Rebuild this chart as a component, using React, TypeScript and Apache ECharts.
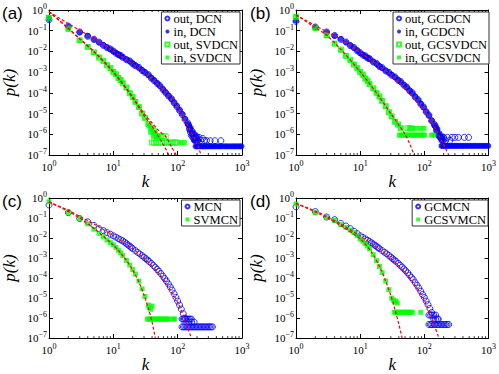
import React, { useEffect, useRef } from 'react';
import * as echarts from 'echarts';

// ---------- data (k values and log10 p(k)) ----------
const KB = [1,2,3,4,5,6,7,8,9,10,11,12,13,14,16,18,20,22,25,28,31,35,39,43,48,53,59,65,72,80,88,97,107,118,130,143];
const KG = [1,2,3,4,5,6,7,8,9,10,11,12,13,14,16,18,20,22,25,28,31,35,39,43];
const KC = [1,2,3,4,5,6,7,8,9,10,11,12,13,14,15,16,17,18,19,20,22,24,26,28,30,32,34,36,39,42,45,48,51,55,59,63,67,72,77,82,88,94,100,107,114,122,130];

// (a)
const A_OUT_DCN = [-0.47,-0.78,-1.06,-1.27,-1.41,-1.55,-1.71,-1.82,-1.88,-1.98,-2.09,-2.16,-2.19,-2.29,-2.40,-2.46,-2.60,-2.69,-2.77,-2.92,-3.02,-3.12,-3.29,-3.41,-3.55,-3.65,-3.84,-3.99,-4.15,-4.28,-4.48,-4.66,-4.85,-5.05,-5.28,-5.45];
const A_IN_DCN = [-0.43,-0.80,-1.08,-1.25,-1.43,-1.57,-1.69,-1.80,-1.90,-2.00,-2.07,-2.14,-2.21,-2.27,-2.38,-2.48,-2.58,-2.67,-2.79,-2.90,-3.00,-3.14,-3.27,-3.39,-3.53,-3.67,-3.82,-3.97,-4.13,-4.30,-4.46,-4.63,-4.82,-5.02,-5.25,-5.50];
const A_OUT_DCN_TAIL_K = [148,152,158,163,168,172,178,185,195,205,215,230,245,260,280,320,380,470];
const A_OUT_DCN_TAIL = [-5.55,-5.75,-5.90,-6.05,-5.85,-6.15,-6.20,-6.30,-6.20,-6.30,-6.15,-6.30,-6.20,-6.30,-6.30,-6.31,-6.31,-6.31];
const A_IN_DCN_TAIL_K = [150,155,160,165,170,175,180,185,190,200,210];
const A_IN_DCN_TAIL = [-5.60,-5.80,-5.70,-6.00,-5.90,-6.10,-6.30,-6.00,-6.30,-6.10,-6.30];
const A_IN_DCN_FLOOR_K = [190,200,210,222,235,250,265,280,300,320,340,365,390,420,450,480,520,560,600,650,700,750,800,860,920,980];
const A_IN_DCN_FLOOR = -6.58;
const A_OUT_SV = [-0.38,-0.90,-1.46,-1.79,-2.04,-2.30,-2.45,-2.67,-2.80,-3.00,-3.10,-3.28,-3.38,-3.54,-3.74,-4.02,-4.20,-4.44,-4.68,-5.00,-5.20,-5.50,-5.68,-5.85];
const A_IN_SV = [-0.35,-0.93,-1.48,-1.77,-2.06,-2.28,-2.47,-2.65,-2.82,-2.98,-3.12,-3.26,-3.40,-3.52,-3.76,-4.00,-4.22,-4.42,-4.70,-4.98,-5.22,-5.48,-5.70,-5.90];
const A_OUT_SV_FLOOR_K = [40,43,46,50,54,58,63,68,73,79,85,91,98];
const A_OUT_SV_FLOOR = -6.4;
const A_OUT_SV_MID_K = [48,52,56,60,65];
const A_OUT_SV_MID = -6.1;
const A_IN_SV_TAIL_K = [36,38,40,42,45,47,50,110,127];
const A_IN_SV_TAIL = [-5.60,-5.90,-5.75,-6.10,-5.95,-6.10,-6.10,-6.40,-6.40];

// (b)
const B_OUT_GC = [-0.55,-0.82,-1.06,-1.23,-1.42,-1.54,-1.72,-1.81,-1.97,-2.06,-2.18,-2.21,-2.32,-2.35,-2.51,-2.58,-2.73,-2.78,-2.94,-3.01,-3.15,-3.23,-3.39,-3.46,-3.63,-3.72,-3.90,-4.00,-4.20,-4.33,-4.54,-4.68,-4.92,-5.08,-5.35,-5.52];
const B_IN_GC = [-0.52,-0.84,-1.08,-1.25,-1.40,-1.56,-1.70,-1.83,-1.95,-2.08,-2.16,-2.23,-2.30,-2.37,-2.49,-2.60,-2.71,-2.80,-2.92,-3.03,-3.13,-3.25,-3.37,-3.48,-3.61,-3.74,-3.88,-4.02,-4.18,-4.35,-4.52,-4.70,-4.90,-5.10,-5.33,-5.56];
const B_OUT_GC_TAIL_K = [148,155,162,170,178,188,200,215,230,250,270,300,340,420,490];
const B_OUT_GC_TAIL = [-5.60,-5.80,-6.00,-6.10,-6.15,-6.25,-6.15,-6.30,-6.15,-6.30,-6.15,-6.15,-6.15,-6.15,-6.15];
const B_IN_GC_TAIL_K = [150,155,160,166,172,178,185,192,200];
const B_IN_GC_TAIL = [-5.65,-5.85,-5.75,-6.05,-5.95,-6.15,-6.30,-6.10,-6.30];
const B_IN_GC_FLOOR_K = [185,195,205,218,230,245,260,278,295,315,335,360,385,410,440,470,505,545,585,630,680,730,790,850,920,990];
const B_IN_GC_FLOOR = -6.56;
const B_OUT_SV = [-0.35,-0.86,-1.22,-1.63,-1.91,-2.22,-2.40,-2.64,-2.79,-3.00,-3.12,-3.31,-3.41,-3.58,-3.78,-4.02,-4.17,-4.40,-4.64,-4.94,-5.13,-5.40,-5.52,-5.72];
const B_IN_SV = [-0.32,-0.88,-1.24,-1.61,-1.93,-2.20,-2.42,-2.62,-2.81,-2.98,-3.14,-3.29,-3.43,-3.56,-3.80,-4.00,-4.19,-4.38,-4.66,-4.92,-5.15,-5.38,-5.55,-5.70];
const B_OUT_SV_MID_K = [55,62];
const B_OUT_SV_MID = -5.71;
const B_IN_SV_MID_K = [58,66,75,88,99];
const B_IN_SV_MID = -5.71;
const B_IN_SV_FLOOR_K = [41,44,47,50,54,58,62,67,72,77,83,89,95,101,130,141];
const B_IN_SV_FLOOR = -6.04;

// (c)
const C_MCN = [-0.35,-0.73,-1.03,-1.19,-1.37,-1.53,-1.63,-1.73,-1.81,-1.89,-1.96,-2.03,-2.09,-2.14,-2.21,-2.28,-2.35,-2.41,-2.47,-2.53,-2.63,-2.72,-2.80,-2.88,-2.96,-3.03,-3.10,-3.17,-3.27,-3.37,-3.47,-3.57,-3.66,-3.78,-3.91,-4.03,-4.15,-4.30,-4.45,-4.60,-4.78,-4.97,-5.15,-5.35,-5.55,-5.78,-6.00];
const C_MCN_MID_K = [117,122,127,133,140,147,155,163];
const C_MCN_MID = -6.05;
const C_MCN_HI_K = [150,165,180];
const C_MCN_HI = -6.2;
const C_MCN_FLOOR_K = [117,123,129,136,143,150,158,166,174,183,192,202,212,223,234,246,258,271,285,300,315,331,348];
const C_MCN_FLOOR = -6.44;
const C_SV = [-0.19,-0.73,-1.03,-1.29,-1.56,-1.77,-1.94,-2.10,-2.23,-2.34,-2.47,-2.61,-2.74,-2.88,-3.12,-3.35,-3.58,-3.80,-4.15,-4.54,-4.92,-5.35];
const C_SV_TAIL_K = [36,38,40];
const C_SV_TAIL = [-5.47,-5.56,-5.40];
const C_SV_FLOOR_K = [34,36,38,40,42,45,48,51,54,57,61,65,69,73,86,90];
const C_SV_FLOOR = -6.05;

// (d)
const D_MCN = [-0.44,-0.68,-0.95,-1.08,-1.27,-1.40,-1.53,-1.66,-1.78,-1.89,-1.97,-2.04,-2.11,-2.17,-2.24,-2.30,-2.36,-2.42,-2.48,-2.53,-2.63,-2.71,-2.79,-2.87,-2.95,-3.03,-3.10,-3.16,-3.26,-3.36,-3.45,-3.54,-3.63,-3.74,-3.86,-3.97,-4.08,-4.23,-4.36,-4.50,-4.66,-4.82,-4.97,-5.15,-5.33,-5.52,-5.72];
const D_MCN_MID_K = [118,125,132,140,150];
const D_MCN_MID = -5.85;
const D_MCN_HI_K = [140,150,160,165];
const D_MCN_HI = -6.05;
const D_MCN_FLOOR_K = [118,124,130,137,144,151,159,167,176,185,195,205,216,227,240];
const D_MCN_FLOOR = -6.32;
const D_SV = [-0.30,-0.74,-0.98,-1.12,-1.33,-1.47,-1.60,-1.73,-1.86,-2.05,-2.16,-2.28,-2.40,-2.53,-2.83,-3.13,-3.42,-3.72,-4.15,-4.58,-5.00];
const D_SV_TAIL_K = [33,35,36,38];
const D_SV_TAIL = [-5.10,-5.20,-5.15,-5.25];
const D_SV_FLOOR_K = [34,36,38,40,43,46,49,52,55,58,62,65,88];
const D_SV_FLOOR = -5.71;

// fitted curves [k, log10 p]
const FIT_A_DCN = [[1,-0.08],[2,-0.66],[3,-0.98],[5,-1.38],[10,-1.98],[20,-2.6],[30,-3.0],[50,-3.6],[100,-4.7],[150,-5.7],[200,-6.45],[230,-7.0]];
const FIT_A_SV1 = [[1,-0.08],[2,-0.9],[3,-1.4],[5,-2.02],[10,-3.0],[20,-4.25],[30,-5.1],[40,-5.62],[50,-6.1],[60,-6.5],[73,-7.0]];
const FIT_A_SV2 = [[1,-0.08],[2,-0.88],[3,-1.38],[5,-2.0],[10,-2.98],[20,-4.2],[30,-5.0],[40,-5.45],[50,-5.8],[66,-6.13],[80,-6.6],[95,-7.0]];
const FIT_B_GC = [[1,-0.24],[2,-0.75],[3,-1.05],[5,-1.42],[10,-2.05],[20,-2.72],[30,-3.12],[50,-3.78],[100,-4.85],[150,-5.75],[200,-6.5],[240,-7.0]];
const FIT_B_SV = [[1,-0.24],[2,-0.85],[3,-1.22],[5,-1.9],[10,-2.98],[20,-4.2],[30,-5.0],[40,-5.55],[50,-6.0],[60,-6.5],[69,-7.0]];
const FIT_C_MCN = [[1,-0.19],[2,-0.62],[3,-0.92],[5,-1.3],[10,-1.88],[20,-2.53],[30,-3.0],[50,-3.72],[70,-4.38],[100,-5.22],[130,-6.1],[163,-7.0]];
const FIT_C_SV = [[1,-0.19],[2,-0.68],[3,-1.0],[5,-1.52],[10,-2.36],[15,-3.0],[20,-3.6],[25,-4.2],[30,-4.85],[35,-5.5],[40,-6.2],[45,-7.0]];
const FIT_D_MCN = [[1,-0.27],[2,-0.65],[3,-0.92],[5,-1.3],[10,-1.9],[20,-2.55],[30,-3.0],[50,-3.72],[70,-4.3],[100,-5.1],[130,-6.0],[169,-7.0]];
const FIT_D_SV = [[1,-0.27],[2,-0.7],[3,-0.98],[5,-1.38],[10,-2.05],[15,-2.7],[20,-3.42],[25,-4.15],[30,-4.87],[35,-5.6],[40,-6.3],[45,-7.0]];

const X_MINOR_TICKS = [2,3,4,5,6,7,8,9,20,30,40,50,60,70,80,90,200,300,400,500,600,700,800,900];
const PANEL_LABELS = ['(a)', '(b)', '(c)', '(d)'];

// ---------- helpers ----------
const zip = (ks: number[], logs: number[]) => {
  const n = Math.min(ks.length, logs.length);
  const out: number[][] = [];
  for (let i = 0; i < n; i++) out.push([ks[i], Math.pow(10, logs[i])]);
  return out;
};
const level = (ks: number[], lg: number) => ks.map((k) => [k, Math.pow(10, lg)]);
const pairs = (arr: number[][]) => arr.map(([k, lg]) => [k, Math.pow(10, lg)]);

const BLUE = '#0000ff';
const GREEN = '#00ff00';
const RED = '#ff0000';
const SERIF = 'Liberation Serif';

const GRIDS = [
  { left: 48, top: 10, width: 194, height: 145 },
  { left: 296, top: 10, width: 194, height: 145 },
  { left: 48, top: 198, width: 194, height: 145 },
  { left: 296, top: 198, width: 194, height: 145 },
];

type Kind = 'openCircle' | 'circle' | 'openRect' | 'rect';
interface SeriesDef { name: string; kind: Kind; data: number[][]; }

const PANELS: { series: SeriesDef[]; fits: number[][][]; legend: { right: number; top: number } }[] = [
  {
    series: [
      { name: 'out, DCN', kind: 'openCircle', data: [...zip(KB, A_OUT_DCN), ...zip(A_OUT_DCN_TAIL_K, A_OUT_DCN_TAIL)] },
      { name: 'in, DCN', kind: 'circle', data: [...zip(KB, A_IN_DCN), ...zip(A_IN_DCN_TAIL_K, A_IN_DCN_TAIL), ...level(A_IN_DCN_FLOOR_K, A_IN_DCN_FLOOR)] },
      { name: 'out, SVDCN', kind: 'openRect', data: [...zip(KG, A_OUT_SV), ...level(A_OUT_SV_FLOOR_K, A_OUT_SV_FLOOR), ...level(A_OUT_SV_MID_K, A_OUT_SV_MID)] },
      { name: 'in, SVDCN', kind: 'rect', data: [...zip(KG, A_IN_SV), ...zip(A_IN_SV_TAIL_K, A_IN_SV_TAIL)] },
    ],
    fits: [FIT_A_DCN, FIT_A_SV1, FIT_A_SV2],
    legend: { right: 259, top: 12 },
  },
  {
    series: [
      { name: 'out, GCDCN', kind: 'openCircle', data: [...zip(KB, B_OUT_GC), ...zip(B_OUT_GC_TAIL_K, B_OUT_GC_TAIL)] },
      { name: 'in, GCDCN', kind: 'circle', data: [...zip(KB, B_IN_GC), ...zip(B_IN_GC_TAIL_K, B_IN_GC_TAIL), ...level(B_IN_GC_FLOOR_K, B_IN_GC_FLOOR)] },
      { name: 'out, GCSVDCN', kind: 'openRect', data: [...zip(KG, B_OUT_SV), ...level(B_OUT_SV_MID_K, B_OUT_SV_MID)] },
      { name: 'in, GCSVDCN', kind: 'rect', data: [...zip(KG, B_IN_SV), ...level(B_IN_SV_MID_K, B_IN_SV_MID), ...level(B_IN_SV_FLOOR_K, B_IN_SV_FLOOR)] },
    ],
    fits: [FIT_B_GC, FIT_B_SV],
    legend: { right: 10, top: 12 },
  },
  {
    series: [
      { name: 'MCN', kind: 'openCircle', data: [...zip(KC, C_MCN), ...level(C_MCN_MID_K, C_MCN_MID), ...level(C_MCN_HI_K, C_MCN_HI), ...level(C_MCN_FLOOR_K, C_MCN_FLOOR)] },
      { name: 'SVMCN', kind: 'rect', data: [...zip(KG, C_SV), ...zip(C_SV_TAIL_K, C_SV_TAIL), ...level(C_SV_FLOOR_K, C_SV_FLOOR)] },
    ],
    fits: [FIT_C_MCN, FIT_C_SV],
    legend: { right: 259, top: 200 },
  },
  {
    series: [
      { name: 'GCMCN', kind: 'openCircle', data: [...zip(KC, D_MCN), ...level(D_MCN_MID_K, D_MCN_MID), ...level(D_MCN_HI_K, D_MCN_HI), ...level(D_MCN_FLOOR_K, D_MCN_FLOOR)] },
      { name: 'GCSVMCN', kind: 'rect', data: [...zip(KG, D_SV), ...zip(D_SV_TAIL_K, D_SV_TAIL), ...level(D_SV_FLOOR_K, D_SV_FLOOR)] },
    ],
    fits: [FIT_D_MCN, FIT_D_SV],
    legend: { right: 11, top: 200 },
  },
];

const supLabel = (v: number) => {
  const e = Math.round(Math.log10(v));
  return `{b|10}{s|${e < 0 ? '\u2212' + -e : e}}`;
};
const RICH = {
  b: { fontFamily: SERIF, fontSize: 11, color: '#000' },
  s: { fontFamily: SERIF, fontSize: 8, color: '#000', padding: [0, 0, 7, 0] },
};
const NAME_STYLE = { fontFamily: SERIF, fontStyle: 'italic', fontSize: 17, color: '#000' };

function buildOption() {
  const xAxis: any[] = [];
  const yAxis: any[] = [];
  const series: any[] = [];
  const legend: any[] = [];
  const graphic: any[] = [];

  GRIDS.forEach((g, i) => {
    const line = { show: true, onZero: false, lineStyle: { color: '#000', width: 1 } };
    const tick = { show: true, inside: true, length: 4, lineStyle: { color: '#000', width: 1 } };
    xAxis.push({
      type: 'log', logBase: 10, gridIndex: i, min: 1, max: 1000, splitNumber: 3, position: 'bottom',
      axisLine: line, axisTick: tick, splitLine: { show: false },
      axisLabel: { margin: 4, formatter: supLabel, rich: RICH },
      name: 'k', nameLocation: 'middle', nameGap: 9, nameTextStyle: NAME_STYLE,
    });
    xAxis.push({
      type: 'log', logBase: 10, gridIndex: i, min: 1, max: 1000, splitNumber: 3, position: 'top',
      axisLine: line, axisTick: tick, splitLine: { show: false }, axisLabel: { show: false },
    });
    yAxis.push({
      type: 'log', logBase: 10, gridIndex: i, min: 1e-7, max: 1, splitNumber: 7, position: 'left',
      axisLine: line, axisTick: tick, splitLine: { show: false },
      axisLabel: { margin: 2, formatter: supLabel, rich: RICH },
      name: 'p(k)', nameLocation: 'middle', nameGap: 31, nameTextStyle: NAME_STYLE,
    });
    yAxis.push({
      type: 'log', logBase: 10, gridIndex: i, min: 1e-7, max: 1, splitNumber: 7, position: 'right',
      axisLine: line, axisTick: tick, splitLine: { show: false }, axisLabel: { show: false },
    });

    const panel = PANELS[i];
    panel.series.forEach((s, j) => {
      const isBlue = s.kind === 'openCircle' || s.kind === 'circle';
      const color = isBlue ? BLUE : GREEN;
      const open = s.kind === 'openCircle' || s.kind === 'openRect';
      series.push({
        type: 'scatter', name: s.name, xAxisIndex: 2 * i, yAxisIndex: 2 * i,
        data: s.data,
        symbol: isBlue ? 'circle' : 'rect',
        symbolSize: isBlue ? 6 : 5,
        itemStyle: open
          ? { color: 'rgba(255,255,255,0)', borderColor: color, borderWidth: 1 }
          : { color, borderWidth: 0 },
        z: 2 + j, silent: true,
      });
    });
    panel.fits.forEach((f) => {
      series.push({
        type: 'line', xAxisIndex: 2 * i, yAxisIndex: 2 * i, data: pairs(f),
        symbol: 'none', showSymbol: false, smooth: 0.3, silent: true, z: 10,
        lineStyle: { color: RED, width: 1.2, type: [3, 2] },
      });
    });
    series.push({
      type: 'custom', xAxisIndex: 2 * i, yAxisIndex: 2 * i, silent: true, z: 11,
      data: X_MINOR_TICKS.map((k) => [k, 1e-7]),
      renderItem: (_p: any, api: any) => {
        const k = api.value(0);
        const b = api.coord([k, 1e-7]);
        const t = api.coord([k, 1]);
        return {
          type: 'group',
          children: [
            { type: 'line', shape: { x1: b[0], y1: b[1], x2: b[0], y2: b[1] - 2 }, style: { stroke: '#000', lineWidth: 0.8 } },
            { type: 'line', shape: { x1: t[0], y1: t[1], x2: t[0], y2: t[1] + 2 }, style: { stroke: '#000', lineWidth: 0.8 } },
          ],
        };
      },
    });

    legend.push({
      data: panel.series.map((s) => s.name),
      orient: 'vertical', right: panel.legend.right, top: panel.legend.top,
      itemWidth: 4, itemHeight: 4, itemGap: 0,
      padding: [0, 2, 0, 3],
      backgroundColor: '#fff', borderColor: '#333', borderWidth: 1,
      selectedMode: false,
      textStyle: { fontFamily: SERIF, fontSize: 12.5, color: '#000', lineHeight: 12.5, padding: [0, 0, 0, -1] },
    });

    graphic.push({
      type: 'text',
      left: g.left - 46,
      top: g.top - 5,
      style: { text: PANEL_LABELS[i], font: '17px "Liberation Sans", Arial, sans-serif', fill: '#000' },
    });
  });

  return {
    animation: false,
    backgroundColor: '#fff',
    grid: GRIDS.map((g) => ({ ...g, containLabel: false })),
    xAxis, yAxis, series, legend, graphic,
  };
}

export default function App() {
  const ref = useRef<HTMLDivElement>(null);
  useEffect(() => {
    document.body.style.margin = '0';
    if (!ref.current) return;
    const chart = echarts.init(ref.current, undefined, { renderer: 'svg' });
    chart.setOption(buildOption() as any);
    return () => chart.dispose();
  }, []);
  return <div ref={ref} style={{ width: 499, height: 374 }} />;
}
